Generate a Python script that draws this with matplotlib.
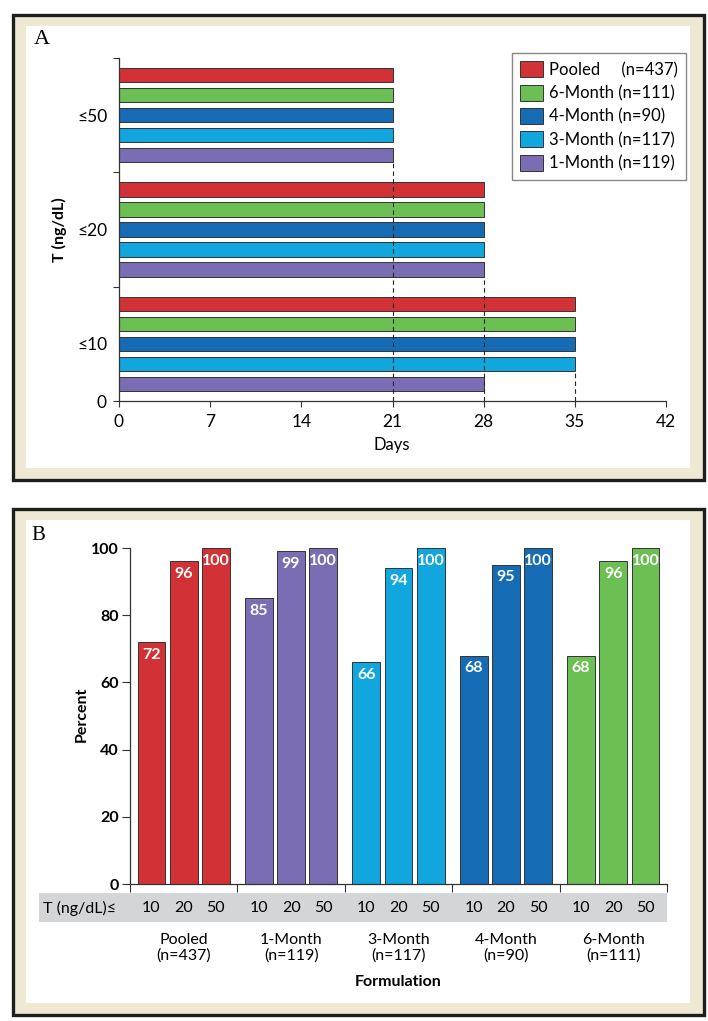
import matplotlib
matplotlib.use('Agg')
import matplotlib.pyplot as plt
from matplotlib.patches import Rectangle, Patch

plt.rcParams['font.family'] = ['Lato', 'DejaVu Sans']

# ---- panel A: days to reach each T threshold ----
levels_a = ['≤10', '≤20', '≤50']
series_a = ['Pooled', '6-Month', '4-Month', '3-Month', '1-Month']
n_a = [437, 111, 90, 117, 119]
days_pooled = [35, 28, 21]
days_6m = [35, 28, 21]
days_4m = [35, 28, 21]
days_3m = [35, 28, 21]
days_1m = [28, 28, 21]
day_ticks = [0, 7, 14, 21, 28, 35, 42]

# ---- panel B: percent of patients below each threshold ----
formulations = ['Pooled', '1-Month', '3-Month', '4-Month', '6-Month']
n_b = [437, 119, 117, 90, 111]
levels_b = ['10', '20', '50']
pct_pooled = [72, 96, 100]
pct_1m = [85, 99, 100]
pct_3m = [66, 94, 100]
pct_4m = [68, 95, 100]
pct_6m = [68, 96, 100]
pct_ticks = [0, 20, 40, 60, 80, 100]

colors = {'Pooled': '#d23236', '1-Month': '#7b6db3', '3-Month': '#12a6df',
          '4-Month': '#166bb5', '6-Month': '#6cbf53'}
dark = '#333333'

W, H = 708, 1021
fig = plt.figure(figsize=(W / 100, H / 100), dpi=100)


def box(x0, y0, x1, y1):
    # pixel box (top-left origin) -> figure fraction rect
    return [x0 / W, 1 - y1 / H, (x1 - x0) / W, (y1 - y0) / H]


def frame(outer, inner):
    fig.add_artist(Rectangle(box(*outer)[:2], *box(*outer)[2:], transform=fig.transFigure,
                             facecolor='#efe8d3', edgecolor='#1e1e1e', lw=2.4, zorder=-3))
    fig.add_artist(Rectangle(box(*inner)[:2], *box(*inner)[2:], transform=fig.transFigure,
                             facecolor='white', edgecolor='none', zorder=-2))


frame((13, 15, 704, 480), (26, 26, 690, 468))
frame((13, 509, 704, 1015), (26, 520, 690, 1003))

# ================= panel A =================
ax = fig.add_axes(box(119, 58, 666, 401))
ax.set_facecolor('none')
days = [days_pooled, days_6m, days_4m, days_3m, days_1m]
offsets = [0.35, 0.175, 0.0, -0.175, -0.35]
bar_h = 0.123
for i, name in enumerate(series_a):
    ys = [g + 0.5 + offsets[i] for g in range(len(levels_a))]
    ax.barh(ys, days[i], height=bar_h, color=colors[name], edgecolor=dark, lw=0.7,
            label=f'{name} (n={n_a[i]})', zorder=2)

# dashed guides: from 0 up to the lowest bar with that value in the topmost group holding it
for v in sorted(set(d for s in days for d in s)):
    g = max(k for k in range(len(levels_a)) if any(s[k] == v for s in days))
    low = min(g + 0.5 + offsets[i] for i, s in enumerate(days) if s[g] == v) - bar_h / 2
    ax.vlines(v, 0, low, colors='#222222', linestyles=(0, (4, 3)), lw=0.8, zorder=3)

ax.set_xlim(0, 42)
ax.set_ylim(0, 3)
ax.set_xticks(day_ticks)
ax.set_yticks([0, 1, 2, 3])
ax.set_yticklabels(['0', '', '', ''])
ax.set_yticks([0.5, 1.5, 2.5], minor=True)
ax.set_yticklabels(levels_a, minor=True)
for s in ['top', 'right']:
    ax.spines[s].set_visible(False)
for s in ['left', 'bottom']:
    ax.spines[s].set_color(dark)
    ax.spines[s].set_linewidth(0.9)
ax.tick_params(axis='both', which='major', length=4, color=dark, labelsize=12.5, width=0.8)
ax.tick_params(axis='y', which='major', pad=5)
ax.tick_params(axis='y', which='minor', length=0, pad=8, labelsize=12.5)
ax.tick_params(axis='x', pad=5)

handles = [Patch(facecolor=colors[s], edgecolor=dark, lw=0.7) for s in series_a]
labels = [f'{s}     (n={n})' if s == 'Pooled' else f'{s} (n={n})' for s, n in zip(series_a, n_a)]
ax.legend(handles, labels, loc='upper right', bbox_to_anchor=(686 / W, 1 - 53 / H),
          bbox_transform=fig.transFigure, borderaxespad=0, fancybox=False,
          edgecolor='#888888', framealpha=1, fontsize=12, handlelength=1.35,
          handleheight=1.1, handletextpad=0.35, labelspacing=0.4, borderpad=0.5)

fig.text(42 / W, 1 - 40 / H, 'A', family='Liberation Serif', fontsize=16, ha='center', va='center')
fig.text(59 / W, 1 - 230 / H, 'T (ng/dL)', fontsize=11.5, fontweight='bold', rotation=90,
         ha='center', va='center')
fig.text(392 / W, 1 - 445 / H, 'Days', fontsize=12, ha='center', va='center')

# ================= panel B =================
bx = fig.add_axes(box(130, 548, 667, 884))
bx.set_facecolor('none')
pcts = [pct_pooled, pct_1m, pct_3m, pct_4m, pct_6m]
width = 0.26
pos = []
for g, name in enumerate(formulations):
    xs = [g + 0.5 + (j - 1) * 0.3 for j in range(len(levels_b))]
    pos += xs
    bx.bar(xs, pcts[g], width=width, color=colors[name], edgecolor=dark, lw=0.7, zorder=2)
    for x, v in zip(xs, pcts[g]):
        bx.annotate(str(v), (x, v), xytext=(0, -9), textcoords='offset points',
                    ha='center', va='center', color='white', fontsize=11.5, fontweight='bold')
    bx.text(g + 0.5, -0.19, f'{name}\n(n={n_b[g]})', transform=bx.get_xaxis_transform(),
            ha='center', va='center', fontsize=11.5, linespacing=1.15)

bx.set_xlim(0, len(formulations))
bx.set_ylim(0, 100)
bx.set_yticks(pct_ticks)
bx.set_xticks(pos)
bx.set_xticklabels(levels_b * len(formulations))
bx.set_xticks(range(len(formulations) + 1), minor=True)
for s in ['top', 'right']:
    bx.spines[s].set_visible(False)
for s in ['left', 'bottom']:
    bx.spines[s].set_color(dark)
    bx.spines[s].set_linewidth(0.9)
bx.tick_params(axis='x', which='major', length=0, pad=12, labelsize=11.5)
bx.tick_params(axis='x', which='minor', length=6, color=dark, width=0.8)
bx.tick_params(axis='y', length=6, color=dark, width=0.8, pad=2, labelsize=11.5)
for t in bx.get_yticklabels():
    t.set_fontweight('bold')

fig.add_artist(Rectangle(box(39, 893, 667, 922)[:2], *box(39, 893, 667, 922)[2:],
                         transform=fig.transFigure, facecolor='#d4d5d7', edgecolor='none', zorder=-1))
fig.text(43 / W, 1 - 908 / H, 'T (ng/dL)≤', fontsize=11.5, ha='left', va='center')
bx.text(0.5, (884 - 982) / 336, 'Formulation', transform=bx.transAxes, fontsize=11.5,
        fontweight='bold', ha='center', va='center')
fig.text(38 / W, 1 - 535 / H, 'B', family='Liberation Serif', fontsize=15, ha='center', va='center')
fig.text(82 / W, 1 - 714 / H, 'Percent', fontsize=11.5, fontweight='bold', rotation=90,
         ha='center', va='center')

fig.savefig('out.png', dpi=100)
